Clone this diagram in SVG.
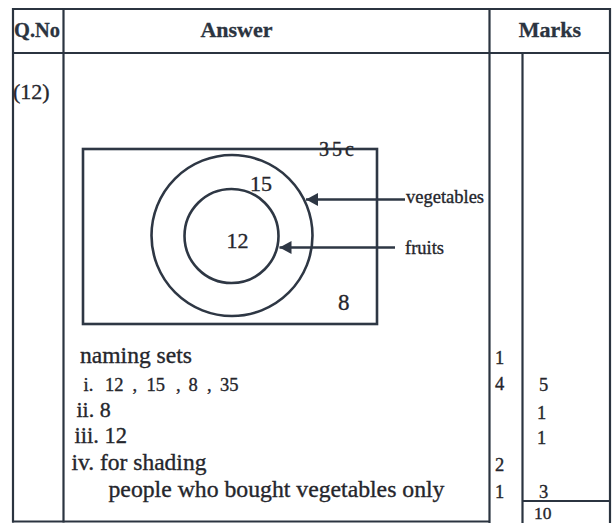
<svg xmlns="http://www.w3.org/2000/svg" width="615" height="523" viewBox="0 0 615 523">
<style>
.grid{stroke:#2b3440;stroke-width:2.2;fill:none}
.shape{stroke:#2e3744;stroke-width:2.6;fill:none}
.hd{font-family:'Liberation Serif','Times New Roman',serif;font-weight:bold;font-size:22px;fill:#2b3440;stroke:#2b3440;stroke-width:0.3}
.t{font-family:'Liberation Serif','Times New Roman',serif;fill:#25262c;stroke:#25262c;stroke-width:0.35}
.conn{stroke:#2e3744;stroke-width:2.6;fill:none}
</style>
<defs>
<marker id="ah" markerUnits="userSpaceOnUse" markerWidth="13" markerHeight="14" refX="12" refY="6.5" orient="auto">
<path d="M0,0 L12,6.5 L0,13 z" fill="#2e3744"/>
</marker>
</defs>
<rect width="615" height="523" fill="#ffffff"/>
<g id="table">
<line class="grid" x1="12" y1="9" x2="611" y2="9"/>
<line class="grid" x1="12" y1="53" x2="611" y2="53"/>
<line class="grid" x1="13" y1="8" x2="13" y2="522.5"/>
<line class="grid" x1="63.5" y1="8" x2="63.5" y2="522.5"/>
<line class="grid" x1="489.5" y1="8" x2="489.5" y2="523"/>
<line class="grid" x1="522.5" y1="53" x2="522.5" y2="523"/>
<line class="grid" x1="610" y1="8" x2="610" y2="523"/>
<line class="grid" x1="12" y1="521.5" x2="490" y2="521.5"/>
<line class="grid" x1="522" y1="501" x2="611" y2="501"/>
<text class="hd" x="14" y="37" font-size="21" textLength="46" lengthAdjust="spacingAndGlyphs">Q.No</text>
<text class="hd" x="236.5" y="37" text-anchor="middle">Answer</text>
<text class="hd" x="550" y="37" text-anchor="middle">Marks</text>
</g>
<g id="qno">
<text class="t" x="13" y="99" font-size="22">(12)</text>
</g>
<g id="universal-set">
<rect class="shape" x="83" y="149" width="294" height="175"/>
<text class="t" x="319" y="156" font-size="20" textLength="35" lengthAdjust="spacing">35c</text>
<text class="t" x="338" y="310" font-size="23">8</text>
</g>
<g id="vegetables-set">
<circle class="shape" cx="232" cy="235.5" r="80.5"/>
<text class="t" x="250" y="190.5" font-size="22">15</text>
</g>
<g id="fruits-set">
<circle class="shape" cx="231.5" cy="236" r="47"/>
<text class="t" x="226.5" y="247.5" font-size="22">12</text>
</g>
<g id="connectors">
<line class="conn" x1="405" y1="199.5" x2="306" y2="199.5" marker-end="url(#ah)"/>
<line class="conn" x1="395" y1="247.5" x2="279.5" y2="247.5" marker-end="url(#ah)"/>
</g>
<g id="label-vegetables">
<text class="t" x="406" y="203" font-size="18.5">vegetables</text>
</g>
<g id="label-fruits">
<text class="t" x="405" y="253.5" font-size="18.5">fruits</text>
</g>
<g id="answers">
<text class="t" x="80" y="362.5" font-size="23" textLength="112" lengthAdjust="spacingAndGlyphs">naming sets</text>
<text class="t" y="390.5" font-size="18.5"><tspan x="83.5">i.</tspan><tspan x="105">12</tspan><tspan x="132.5">,</tspan><tspan x="146.5">15</tspan><tspan x="176">,</tspan><tspan x="188.5">8</tspan><tspan x="207">,</tspan><tspan x="220">35</tspan></text>
<text class="t" x="76.5" y="416.5" font-size="22">ii. 8</text>
<text class="t" x="74.5" y="443" font-size="22.5">iii. 12</text>
<text class="t" x="71.5" y="470" font-size="23.5">iv. for shading</text>
<text class="t" x="108.5" y="496.5" font-size="23.5" textLength="336" lengthAdjust="spacingAndGlyphs">people who bought vegetables only</text>
</g>
<g id="marks">
<text class="t" x="495" y="363.5" font-size="18.5">1</text>
<text class="t" x="495" y="390" font-size="18.5">4</text>
<text class="t" x="495" y="471" font-size="18.5">2</text>
<text class="t" x="495" y="497.5" font-size="18.5">1</text>
<text class="t" x="539" y="391" font-size="18.5">5</text>
<text class="t" x="537" y="418.5" font-size="18.5">1</text>
<text class="t" x="537" y="444" font-size="18.5">1</text>
<text class="t" x="539" y="497.5" font-size="18.5">3</text>
<text class="t" x="534" y="519" font-size="17.5">10</text>
</g>
</svg>
